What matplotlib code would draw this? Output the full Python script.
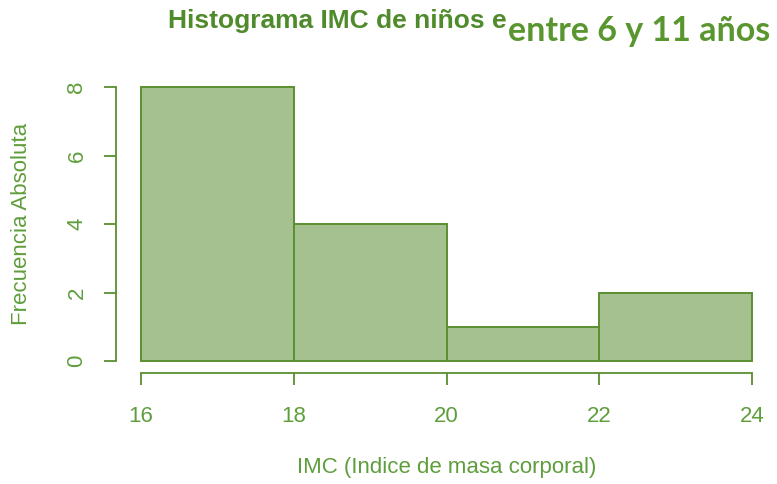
import numpy as np
import matplotlib.pyplot as plt

# Datos del histograma (IMC de niños entre 6 y 11 años)
bin_edges = [16, 18, 20, 22, 24]
frecuencias = [8, 4, 1, 2]
y_ticks = [0, 2, 4, 6, 8]
x_ticks = [16, 18, 20, 22, 24]

verde_texto = "#5f9e3c"
verde_titulo = "#4f8a2b"
verde_borde = "#5a8f31"
verde_relleno = "#a5c190"

fuente = ["Liberation Sans", "DejaVu Sans"]

fig = plt.figure(figsize=(7.77, 4.84), dpi=100)
ax = fig.add_axes([141 / 777, 1 - 361 / 484, 611 / 777, 274 / 484])

edges = np.array(bin_edges)
ax.bar(edges[:-1], frecuencias, width=np.diff(edges), align="edge",
       color=verde_relleno, edgecolor=verde_borde, linewidth=1.4, clip_on=False)

ax.set_xlim(16, 24)
ax.set_ylim(0, 8)
ax.set_xticks(x_ticks)
ax.set_yticks(y_ticks)

for s in ["top", "right"]:
    ax.spines[s].set_visible(False)
ax.spines["left"].set_position(("outward", 18))
ax.spines["bottom"].set_position(("outward", 8.6))
for s in ["left", "bottom"]:
    ax.spines[s].set_color(verde_borde)
    ax.spines[s].set_linewidth(1.3)

ax.tick_params(axis="both", colors=verde_borde, length=8.6, width=1.3,
               labelcolor=verde_texto, labelsize=16)
ax.tick_params(axis="x", pad=15)
ax.tick_params(axis="y", pad=12)
for lbl in ax.get_xticklabels():
    lbl.set_family(fuente)
for lbl in ax.get_yticklabels():
    lbl.set_family(fuente)
    lbl.set_rotation(90)
    lbl.set_va("center")

fig.text(22 / 777, 1 - 224 / 484, "Frecuencia Absoluta", rotation=90,
         ha="center", va="center", fontsize=16, color=verde_texto,
         family=fuente)
fig.text(447 / 777, 1 - 467 / 484, "IMC (Indice de masa corporal)",
         ha="center", va="center", fontsize=16, color=verde_texto,
         family=fuente)

# Título compuesto (la segunda parte va encima con otra fuente)
fig.text(168 / 777, 1 - 21 / 484, "Histograma IMC de niños e",
         ha="left", va="center", fontsize=19, fontweight="bold",
         color=verde_titulo, family=fuente)
fig.text(508 / 777, 1 - 31 / 484, "entre 6 y 11 años",
         ha="left", va="center", fontsize=24.5, fontweight="bold",
         color="#5a962f", family=["Lato", "DejaVu Sans"],
         bbox=dict(facecolor="white", edgecolor="none", pad=1))

fig.savefig("out.png", dpi=100)
